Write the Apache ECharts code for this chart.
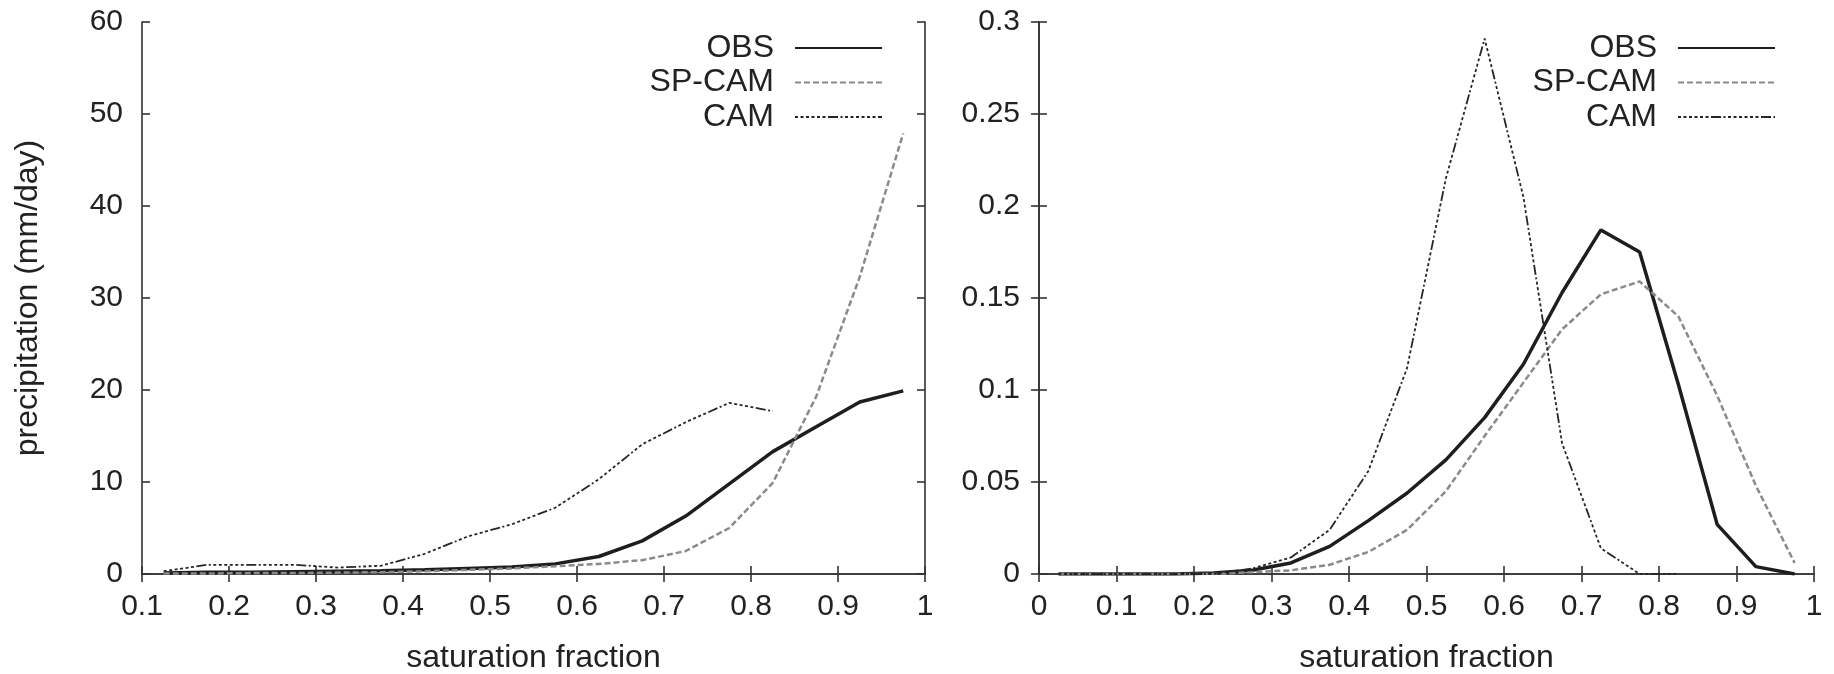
<!DOCTYPE html>
<html>
<head>
<meta charset="utf-8">
<script src="https://cdn.jsdelivr.net/npm/echarts@6/dist/echarts.min.js"></script>
<style>
html, body { margin: 0; padding: 0; background: #fff; }
#main { width: 1834px; height: 674px; }
</style>
</head>
<body>
<div id="main"></div>
<script>
// bin centres of saturation fraction
var leftX = [0.125, 0.175, 0.225, 0.275, 0.325, 0.375, 0.425, 0.475, 0.525, 0.575,
	0.625, 0.675, 0.725, 0.775, 0.825, 0.875, 0.925, 0.975];
var rightX = [0.025, 0.075, 0.125, 0.175, 0.225, 0.275, 0.325, 0.375, 0.425, 0.475,
	0.525, 0.575, 0.625, 0.675, 0.725, 0.775, 0.825, 0.875, 0.925, 0.975];

// left: mean precipitation (mm/day)
var obsPrecip = [0.1, 0.2, 0.2, 0.25, 0.3, 0.35, 0.45, 0.6, 0.75, 1.1,
	1.9, 3.6, 6.3, 9.8, 13.3, 16.0, 18.7, 19.9];
var spcamPrecip = [0.05, 0.05, 0.1, 0.1, 0.15, 0.2, 0.3, 0.45, 0.6, 0.85,
	1.1, 1.5, 2.5, 5.0, 9.9, 19.3, 32.3, 47.9];
var camPrecip = [0.3, 1.0, 1.0, 1.0, 0.7, 0.9, 2.2, 4.1, 5.4, 7.2,
	10.3, 14.1, 16.5, 18.6, 17.7];

// right: frequency of occurrence
var obsFreq = [0, 0, 0, 0, 0.0005, 0.002, 0.006, 0.015, 0.029, 0.044,
	0.062, 0.085, 0.114, 0.153, 0.187, 0.175, 0.103, 0.027, 0.004, 0.0];
var spcamFreq = [0, 0, 0, 0, 0, 0.001, 0.002, 0.005, 0.012, 0.024,
	0.045, 0.075, 0.104, 0.133, 0.152, 0.159, 0.140, 0.097, 0.048, 0.006];
var camFreq = [0, 0, 0, 0, 0, 0.003, 0.009, 0.024, 0.056, 0.112,
	0.215, 0.291, 0.205, 0.071, 0.014, 0.0, 0.0];

var names = ['OBS', 'SP-CAM', 'CAM'];
var font = 'Liberation Sans';
var ink = '#222';

var pairs = function (xs, ys) {
	return ys.map(function (y, i) { return [xs[i], y]; });
};
var fmt = function (v) { return String(Math.round(v * 1000) / 1000); };

var styles = {
	'OBS': { color: '#1e1e1e', width: 3.5, type: 'solid' },
	'SP-CAM': { color: '#8a8a8a', width: 2.5, type: [6, 3] },
	'CAM': { color: '#262626', width: 1.8, type: [3, 2.5, 3, 2.5, 3, 2.5, 3, 2.5, 3, 2.5, 3, 2.5, 10, 2.5, 2, 2.5] }
};

var line = function (name, data, axis) {
	var s = styles[name];
	return {
		name: name,
		type: 'line',
		xAxisIndex: axis,
		yAxisIndex: axis,
		data: data,
		symbol: 'none',
		silent: true,
		animation: false,
		itemStyle: { color: s.color },
		lineStyle: { color: s.color, width: s.width, type: s.type }
	};
};

var frame = { show: true, lineStyle: { color: '#333', width: 1.6 } };
var ticks = { show: true, inside: true, length: 8, lineStyle: { color: '#333', width: 1.6 } };
var labels = { color: ink, fontFamily: font, fontSize: 30, formatter: fmt };

var xAxis = function (grid, min, pos, showLabel) {
	return {
		type: 'value', gridIndex: grid, position: pos, min: min, max: 1, interval: 0.1,
		axisLine: frame, axisTick: ticks, splitLine: { show: false },
		axisLabel: showLabel ? Object.assign({ margin: 18 }, labels) : { show: false },
		name: showLabel ? 'saturation fraction' : '',
		nameLocation: 'middle', nameGap: 68,
		nameTextStyle: { color: ink, fontFamily: font, fontSize: 32 }
	};
};
var yAxis = function (grid, max, interval, pos, showLabel, title) {
	return {
		type: 'value', gridIndex: grid, position: pos, min: 0, max: max, interval: interval,
		axisLine: frame, axisTick: ticks, splitLine: { show: false },
		axisLabel: showLabel ? Object.assign({ margin: 19 }, labels) : { show: false },
		name: title || '',
		nameLocation: 'middle', nameGap: 98,
		nameTextStyle: { color: ink, fontFamily: font, fontSize: 32 }
	};
};

var legend = function (right, width) {
	return {
		data: names, orient: 'vertical', align: 'right',
		right: right, top: 32, padding: 0,
		itemWidth: width, itemHeight: 6, itemGap: 2.5,
		selectedMode: false,
		itemStyle: { opacity: 0 },
		textStyle: { color: ink, fontFamily: font, fontSize: 32, lineHeight: 30, padding: [0, 16, 0, 0] }
	};
};

var myChart = echarts.init(document.getElementById('main'));
myChart.setOption({
	backgroundColor: '#fff',
	animation: false,
	grid: [
		{ left: 142, top: 22, width: 783, height: 552, outerBoundsMode: 'none' },
		{ left: 1039, top: 22, width: 775, height: 552, outerBoundsMode: 'none' }
	],
	xAxis: [
		xAxis(0, 0.1, 'bottom', true),
		xAxis(1, 0, 'bottom', true),
		xAxis(0, 0.1, 'top', false),
		xAxis(1, 0, 'top', false)
	],
	yAxis: [
		yAxis(0, 60, 10, 'left', true, 'precipitation (mm/day)'),
		yAxis(1, 0.3, 0.05, 'left', true),
		yAxis(0, 60, 10, 'right', false),
		yAxis(1, 0.3, 0.05, 'right', false)
	],
	legend: [legend(951, 87), legend(58, 97)],
	series: [
		line('OBS', pairs(leftX, obsPrecip), 0),
		line('SP-CAM', pairs(leftX, spcamPrecip), 0),
		line('CAM', pairs(leftX, camPrecip), 0),
		line('OBS', pairs(rightX, obsFreq), 1),
		line('SP-CAM', pairs(rightX, spcamFreq), 1),
		line('CAM', pairs(rightX, camFreq), 1)
	]
});
</script>
</body>
</html>
